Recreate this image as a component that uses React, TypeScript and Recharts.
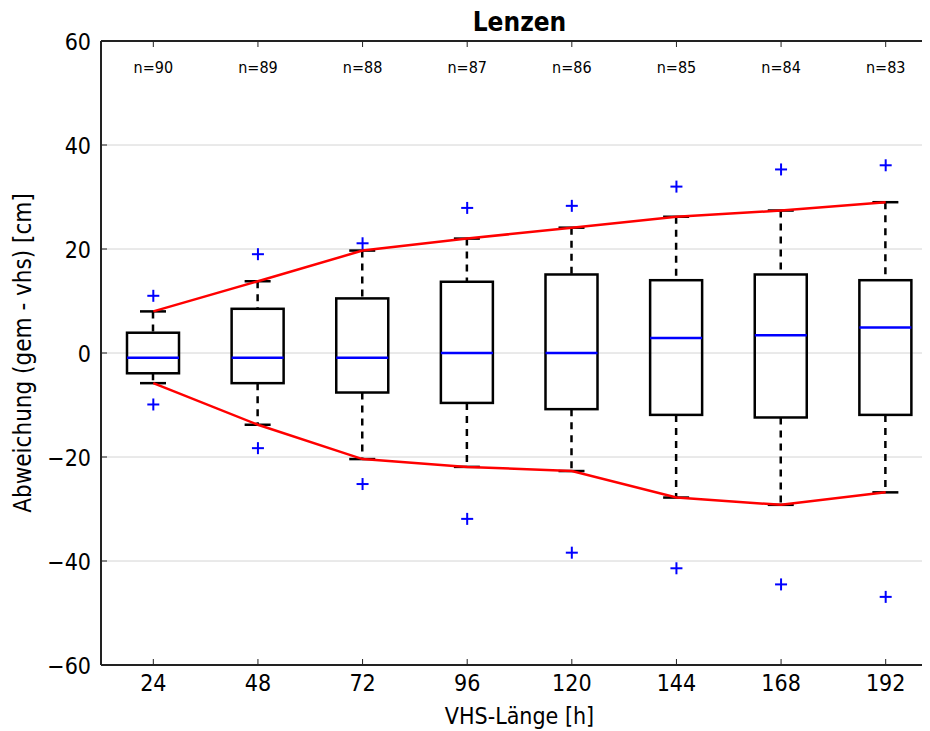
import React from "react";
import {
  ComposedChart,
  Bar,
  Line,
  XAxis,
  YAxis,
  CartesianGrid,
} from "recharts";

const hours = [24, 48, 72, 96, 120, 144, 168, 192];
const counts = [90, 89, 88, 87, 86, 85, 84, 83];
const whiskerLow = [-5.8, -13.8, -20.4, -21.9, -22.7, -27.8, -29.2, -26.8];
const q1 = [-3.9, -5.8, -7.6, -9.6, -10.8, -11.9, -12.4, -11.9];
const median = [-0.9, -0.9, -0.9, 0, 0, 2.9, 3.4, 4.9];
const q3 = [3.9, 8.5, 10.5, 13.7, 15.1, 14.0, 15.1, 14.0];
const whiskerHigh = [8.0, 13.8, 19.7, 22.0, 24.1, 26.2, 27.4, 29.0];
const outlierHigh = [11.0, 19.0, 21.1, 27.9, 28.3, 32.0, 35.3, 36.1];
const outlierLow = [-9.9, -18.3, -25.2, -31.9, -38.4, -41.4, -44.5, -46.9];
const yTicks = [-60, -40, -20, 0, 20, 40, 60];

const data = hours.map((h, i) => ({
  h,
  n: counts[i],
  range: [whiskerLow[i], whiskerHigh[i]],
  lo: whiskerLow[i],
  q1: q1[i],
  med: median[i],
  q3: q3[i],
  hi: whiskerHigh[i],
  outHi: outlierHigh[i],
  outLo: outlierLow[i],
}));

const FONT = "'DejaVu Sans Condensed', 'DejaVu Sans', sans-serif";
const AXIS = "#222";

// whole box plot drawn from the bar that spans lo..hi
const BoxShape = (props: any) => {
  const { x, y, width, height, payload } = props;
  const { lo, hi } = payload;
  const toY = (v: number) => y + ((hi - v) / (hi - lo)) * height;
  const cx = x + width / 2;
  const cap = 13;
  return (
    <g>
      <line x1={cx} x2={cx} y1={toY(hi)} y2={toY(payload.q3)} stroke="#000" strokeWidth={2.5} strokeDasharray="7 6" />
      <line x1={cx} x2={cx} y1={toY(payload.q1)} y2={toY(lo)} stroke="#000" strokeWidth={2.5} strokeDasharray="7 6" />
      <line x1={cx - cap} x2={cx + cap} y1={toY(hi)} y2={toY(hi)} stroke="#000" strokeWidth={2.5} />
      <line x1={cx - cap} x2={cx + cap} y1={toY(lo)} y2={toY(lo)} stroke="#000" strokeWidth={2.5} />
      <rect
        x={x}
        y={toY(payload.q3)}
        width={width}
        height={toY(payload.q1) - toY(payload.q3)}
        fill="none"
        stroke="#000"
        strokeWidth={2.5}
      />
      <line x1={x} x2={x + width} y1={toY(payload.med)} y2={toY(payload.med)} stroke="#0000ff" strokeWidth={2.5} />
    </g>
  );
};

const Plus = (props: any) => {
  const { cx, cy, index } = props;
  if (cx == null || cy == null) return <g key={index} />;
  return (
    <g key={index}>
      <line x1={cx - 6} x2={cx + 6} y1={cy} y2={cy} stroke="#0000ff" strokeWidth={2} />
      <line x1={cx} x2={cx} y1={cy - 6} y2={cy + 6} stroke="#0000ff" strokeWidth={2} />
    </g>
  );
};

const BottomTick = (props: any) => {
  const { x, y, payload } = props;
  return (
    <g>
      <line x1={x} x2={x} y1={y} y2={y - 6} stroke={AXIS} strokeWidth={1} />
      <text x={x} y={y + 26} textAnchor="middle" fontSize={23} fontFamily={FONT} fill="#000">
        {payload.value}
      </text>
    </g>
  );
};

const TopTick = (props: any) => {
  const { x, y, index } = props;
  return (
    <g>
      <line x1={x} x2={x} y1={y} y2={y + 6} stroke={AXIS} strokeWidth={1} />
      <text x={x} y={y + 32} textAnchor="middle" fontSize={16} fontFamily={FONT} fill="#000">
        {`n=${counts[index]}`}
      </text>
    </g>
  );
};

const LeftTick = (props: any) => {
  const { x, y, payload } = props;
  return (
    <g>
      <line x1={x} x2={x + 6} y1={y} y2={y} stroke={AXIS} strokeWidth={1} />
      <text x={x - 10} y={y + 8.5} textAnchor="end" fontSize={23} fontFamily={FONT} fill="#000">
        {payload.value === 0 ? "0" : String(payload.value).replace("-", "\u2212")}
      </text>
    </g>
  );
};

export default function App() {
  return (
    <div style={{ position: "relative", width: 922, height: 723, overflow: "hidden", fontFamily: FONT }}>
      <div
        style={{
          position: "absolute",
          left: 411.5,
          width: 200,
          top: 1,
          textAlign: "center",
          fontSize: 26,
          fontWeight: "bold",
          lineHeight: "26px",
          fontFamily: FONT,
          fontStretch: "condensed",
        }}
      >
        Lenzen
      </div>
      <ComposedChart
        width={940}
        height={723}
        data={data}
        margin={{ top: 32, right: 10, bottom: 4, left: 0 }}
        style={{ fontFamily: FONT }}
      >
        <CartesianGrid vertical={false} stroke="#d4d4d4" strokeWidth={1} />
        <XAxis
          dataKey="h"
          type="category"
          height={62}
          interval={0}
          tickLine={false}
          tickSize={0}
          tickMargin={0}
          axisLine={{ stroke: AXIS, strokeWidth: 2 }}
          tick={<BottomTick />}
          label={{
            value: "VHS-Länge [h]",
            position: "insideBottom",
            offset: 3,
            style: { fontSize: 23, fontFamily: FONT, fill: "#000" },
          }}
        />
        <XAxis
          xAxisId="top"
          dataKey="h"
          type="category"
          orientation="top"
          height={1}
          interval={0}
          tickLine={false}
          tickSize={0}
          tickMargin={0}
          axisLine={{ stroke: AXIS, strokeWidth: 2 }}
          tick={<TopTick />}
        />
        <YAxis
          type="number"
          domain={[-60, 60]}
          ticks={yTicks}
          interval={0}
          width={93}
          tickLine={false}
          tickSize={0}
          tickMargin={0}
          axisLine={{ stroke: AXIS, strokeWidth: 2 }}
          tick={<LeftTick />}
          label={{
            value: "Abweichung (gem - vhs) [cm]",
            angle: -90,
            position: "insideLeft",
            offset: 14,
            style: { textAnchor: "middle", fontSize: 24, fontFamily: FONT, fill: "#000" },
          }}
        />
        <Bar dataKey="range" barSize={52} shape={<BoxShape />} isAnimationActive={false} />
        <Line dataKey="hi" stroke="#ff0000" strokeWidth={2.5} dot={false} activeDot={false} isAnimationActive={false} />
        <Line dataKey="lo" stroke="#ff0000" strokeWidth={2.5} dot={false} activeDot={false} isAnimationActive={false} />
        <Line dataKey="outHi" stroke="none" dot={<Plus />} activeDot={false} isAnimationActive={false} />
        <Line dataKey="outLo" stroke="none" dot={<Plus />} activeDot={false} isAnimationActive={false} />
      </ComposedChart>
    </div>
  );
}
